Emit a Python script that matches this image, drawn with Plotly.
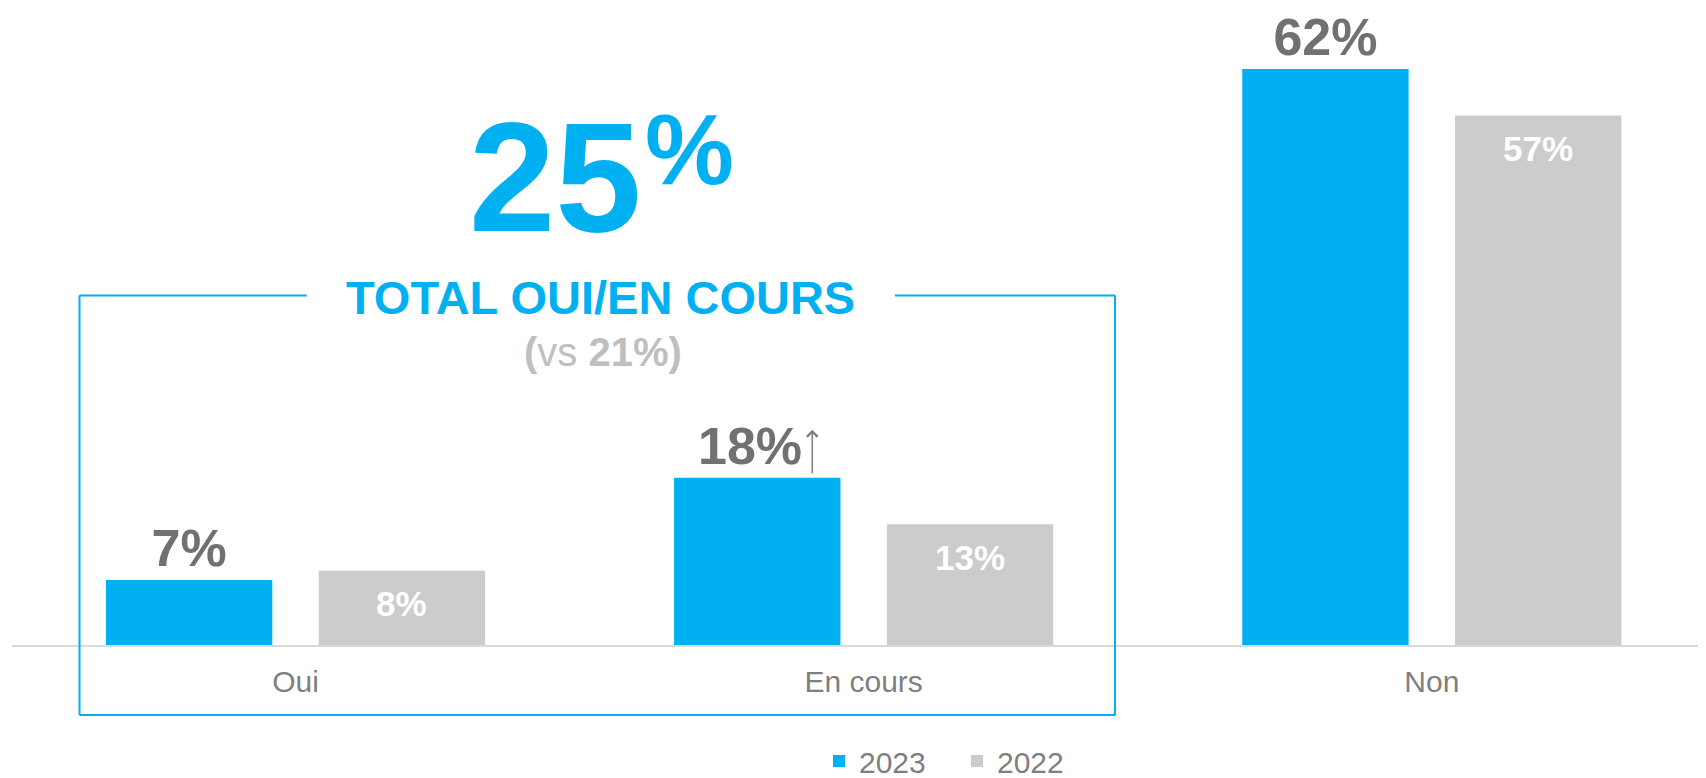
import plotly.graph_objects as go

# ---- data ----
categories = ["Oui", "En cours", "Non"]
series_names = ["2023", "2022"]
values_2023 = [7, 18, 62]
values_2022 = [8, 13, 57]
labels_2023 = ["7%", "18%", "62%"]
labels_2022 = ["8%", "13%", "57%"]
arrow_flags = [False, True, False]   # rising indicator next to a 2023 label
total_value = "25"
total_title = "TOTAL OUI/EN COURS"
total_prev = "21%"

BLUE = "#00b0f0"
GREY_BAR = "#cccccc"
DARK = "#717171"
AXIS_GREY = "#7f7f7f"
FONT = "Liberation Sans, Arial, sans-serif"

# page body has an 8px margin: the figure is sized to fill the window exactly
OFF = 8
W, H = 1706 - OFF, 778 - OFF
ML, MR, MT = 4, 0, 0
BASE = 637                       # baseline in figure px
MB = H - BASE
PW, PH = W - ML - MR, BASE - MT
CAT_PX = 568.15                  # width of one category in px
PX_PER_UNIT = 9.29               # px per percentage point
BARGAP, GROUPGAP = 0.251, 0.218
SLOT = (1 - BARGAP) / 2          # category units between the two bar centres


def px_x(sx):
    """screen px -> paper x"""
    return (sx - OFF - ML) / PW


def px_y(sy):
    """screen px -> paper y"""
    return (BASE - (sy - OFF)) / PH


text_2023 = [t + ("\u00a0" if f else "") for t, f in zip(labels_2023, arrow_flags)]

fig = go.Figure()
fig.add_trace(go.Bar(
    name=series_names[0], x=categories, y=values_2023,
    marker=dict(color=BLUE, line=dict(width=0)),
    text=text_2023, textposition="outside", cliponaxis=False,
    textfont=dict(family=FONT, size=52, color=DARK, weight="bold"),
))
fig.add_trace(go.Bar(
    name=series_names[1], x=categories, y=values_2022,
    marker=dict(color=GREY_BAR, line=dict(width=0)),
))

# 2022 value labels inside the bars
for i, (v, t) in enumerate(zip(values_2022, labels_2022)):
    fig.add_annotation(
        x=i + SLOT / 2, y=v, xref="x", yref="y", yshift=-33,
        text="<b>" + t + "</b>", showarrow=False,
        xanchor="center", yanchor="middle",
        font=dict(family=FONT, size=35, color="white"),
    )

# arrow next to the flagged label
for i, (v, f) in enumerate(zip(values_2023, arrow_flags)):
    if f:
        fig.add_annotation(
            x=i - SLOT / 2, y=v, xref="x", yref="y",
            xshift=55, yshift=48, ax=0, ay=45, axref="pixel", ayref="pixel",
            text="", showarrow=True, arrowhead=4, arrowsize=1.3, arrowwidth=1.6,
            arrowcolor=AXIS_GREY,
        )

# big "25%"
fig.add_annotation(
    x=px_x(555), y=px_y(177.5), xref="paper", yref="paper",
    text="<b>" + total_value + "</b>", showarrow=False,
    xanchor="center", yanchor="middle",
    font=dict(family=FONT, size=155, color=BLUE),
)
fig.add_annotation(
    x=px_x(689), y=px_y(149.5), xref="paper", yref="paper",
    text="<b>%</b>", showarrow=False,
    xanchor="center", yanchor="middle",
    font=dict(family=FONT, size=100, color=BLUE),
)
fig.add_annotation(
    x=px_x(600), y=px_y(297.5), xref="paper", yref="paper",
    text="<b>" + total_title + "</b>", showarrow=False,
    xanchor="center", yanchor="middle",
    font=dict(family=FONT, size=47, color=BLUE),
)
fig.add_annotation(
    x=px_x(603), y=px_y(352), xref="paper", yref="paper",
    text="<b>(</b>vs <b>" + total_prev + ")</b>", showarrow=False,
    xanchor="center", yanchor="middle",
    font=dict(family=FONT, size=40, color="#bfbfbf"),
)

# framing box with a gap for the title
box_line = dict(color=BLUE, width=2)
L, R, T, B = px_x(79.5), px_x(1115), px_y(295.5), px_y(715)
for x0, y0, x1, y1 in [
    (L, T, px_x(306.7), T),
    (px_x(895), T, R, T),
    (L, T, L, B),
    (R, T, R, B),
    (L, B, R, B),
]:
    fig.add_shape(type="line", xref="paper", yref="paper",
                  x0=x0, y0=y0, x1=x1, y1=y1, line=box_line, layer="above")

fig.update_layout(
    width=W, height=H,
    margin=dict(l=ML, r=MR, t=MT, b=MB, pad=0, autoexpand=False),
    paper_bgcolor="white", plot_bgcolor="white",
    barmode="group", bargap=BARGAP, bargroupgap=GROUPGAP,
    font=dict(family=FONT, color=AXIS_GREY),
    showlegend=True,
    legend=dict(
        orientation="h", x=px_x(819), y=px_y(761),
        xanchor="left", yanchor="middle", entrywidth=93,
        font=dict(family=FONT, size=30, color=AXIS_GREY),
        bgcolor="rgba(0,0,0,0)",
    ),
    xaxis=dict(
        range=[-283.5 / CAT_PX, -283.5 / CAT_PX + PW / CAT_PX],
        showgrid=False, zeroline=False,
        showline=True, linecolor="#d9d9d9", linewidth=2,
        ticks="", tickfont=dict(family=FONT, size=30, color=AXIS_GREY),
        ticklabelstandoff=9,
    ),
    yaxis=dict(
        range=[0, PH / PX_PER_UNIT], visible=False, showgrid=False, zeroline=False,
    ),
)

fig.write_html("out.html")
